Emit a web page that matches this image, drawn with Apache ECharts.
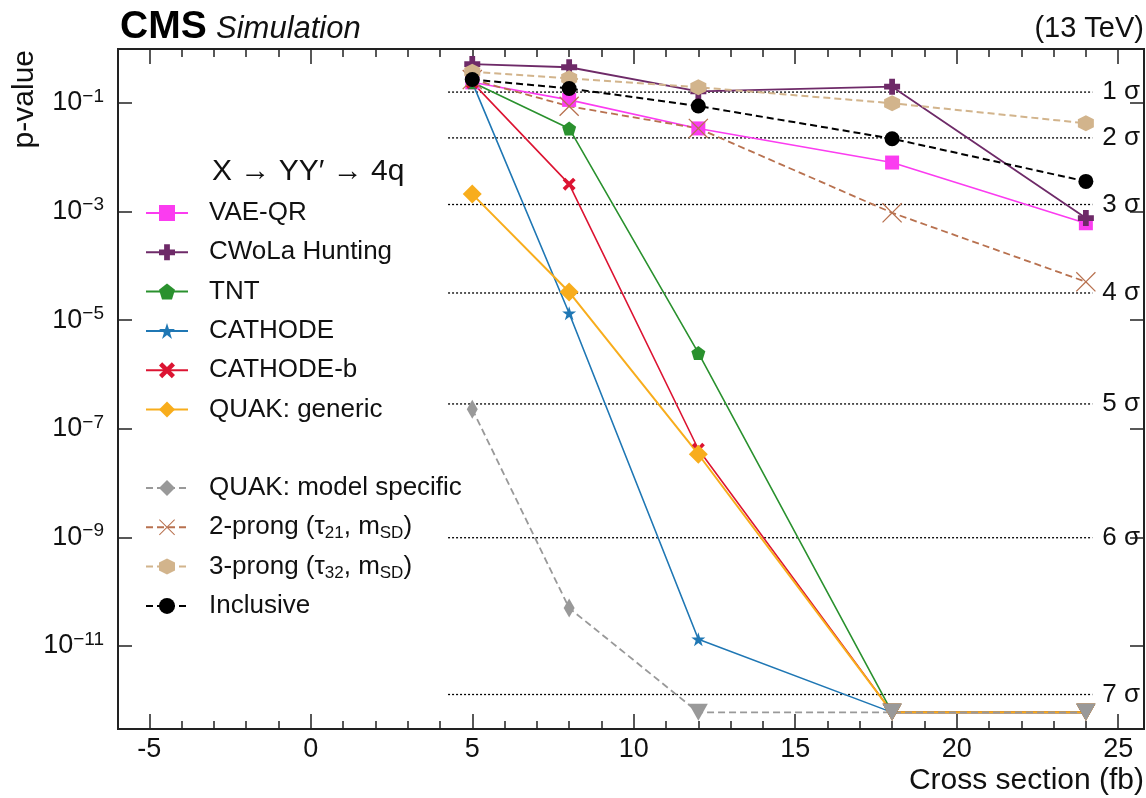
<!DOCTYPE html>
<html>
<head>
<meta charset="utf-8">
<title>p-value vs cross section</title>
<script src="https://cdn.jsdelivr.net/npm/echarts@6.0.0/dist/echarts.min.js"></script>
<style>
  html, body { margin: 0; padding: 0; background: #fff; }
  #main { width: 1146px; height: 798px; }
</style>
</head>
<body>
<div id="main"></div>
<script>
// signal cross sections (fb)
const xSection = [5, 8, 12, 18, 24];
// p-values, FLOOR = pinned to the bottom (drawn as a down triangle)
const FLOOR = 6e-13;
const vaeQR = [0.24, 0.114, 0.034, 0.008, 6.1e-4];
const cwola = [0.52, 0.455, 0.163, 0.2, 7.6e-4];
const tnt = [0.24, 0.034, 2.5e-6, FLOOR, FLOOR];
const cathode = [0.24, 1.34e-5, 1.33e-11, FLOOR, FLOOR];
const cathodeB = [0.24, 3.2e-3, 4.2e-8, FLOOR, FLOOR];
const quakGeneric = [2.1e-3, 3.3e-5, 3.4e-8, FLOOR, FLOOR];
const quakSpecific = [2.3e-7, 5e-11, FLOOR, FLOOR, FLOOR];
const twoProng = [0.27, 0.087, 0.034, 9.5e-4, 5.1e-5];
const threeProng = [0.375, 0.285, 0.195, 0.099, 0.0423];
const inclusive = [0.27, 0.185, 0.088, 0.022, 3.6e-3];

// significance reference lines
const sigmaLabels = ['1 σ', '2 σ', '3 σ', '4 σ', '5 σ', '6 σ', '7 σ'];
const sigmaP = [0.1587, 0.02275, 1.35e-3, 3.17e-5, 2.87e-7, 9.87e-10, 1.28e-12];

// ticks
const xTicks = [-5, 0, 5, 10, 15, 20, 25];
const yTickExp = [-11, -9, -7, -5, -3, -1];

const FONT = 'Liberation Sans, Arial, sans-serif';
const INK = '#111';

let xMinor = [];
for (let i = -5; i <= 25; i++) xMinor.push(i);

// marker shapes
const SYM = {
  plus: 'path://M3.2,0H6.8V3.2H10V6.8H6.8V10H3.2V6.8H0V3.2H3.2Z',
  pentagon: 'path://M5,0L10,3.8L8.1,10H1.9L0,3.8Z',
  star: 'path://M5,0L6.2,3.6H10L6.9,5.8L8.1,9.5L5,7.2L1.9,9.5L3.1,5.8L0,3.6H3.8Z',
  fatX: 'path://M2,0L5,3L8,0L10,2L7,5L10,8L8,10L5,7L2,10L0,8L3,5L0,2Z',
  thinX: 'path://M0,0.8L0.8,0L9,8.2L17.2,0L18,0.8L9.8,9L18,17.2L17.2,18L9,9.8L0.8,18L0,17.2L8.2,9Z',
  hexagon: 'path://M5,0L9.33,2.5V7.5L5,10L0.67,7.5V2.5Z'
};

function makeSeries(name, vals, color, symbol, size, width, dashed) {
  return {
    name: name,
    type: 'line',
    xAxisIndex: 0,
    yAxisIndex: 0,
    color: color,
    symbol: symbol,
    symbolSize: size,
    showAllSymbol: true,
    lineStyle: { width: width, type: dashed ? [7, 4] : 'solid', color: color },
    itemStyle: { color: color },
    data: vals.map(function (p, i) {
      let item = { value: [xSection[i], Math.log10(p)] };
      if (p <= FLOOR) {
        item.symbol = 'triangle';
        item.symbolRotate = 180;
        item.symbolSize = [19, 17];
      }
      return item;
    })
  };
}

let series = [
  makeSeries('VAE-QR', vaeQR, '#fb3cf0', 'rect', 14, 1.6, false),
  makeSeries('CWoLa Hunting', cwola, '#6e2a68', SYM.plus, 16, 1.8, false),
  makeSeries('TNT', tnt, '#2a912e', SYM.pentagon, 14, 1.6, false),
  makeSeries('CATHODE', cathode, '#1f77b4', SYM.star, 14, 1.6, false),
  makeSeries('CATHODE-b', cathodeB, '#dc1432', SYM.fatX, 13, 1.6, false),
  makeSeries('QUAK: generic', quakGeneric, '#f8ad1c', 'diamond', 19, 2, false),
  makeSeries('QUAK: model specific', quakSpecific, '#999999', 'diamond', [11, 19], 1.8, true),
  makeSeries('2-prong', twoProng, '#b8714f', SYM.thinX, 20, 1.8, true),
  makeSeries('3-prong', threeProng, '#d2b48c', SYM.hexagon, 16, 2, true),
  makeSeries('Inclusive', inclusive, '#000000', 'circle', 15, 2, true)
];

// dotted n-sigma lines with their labels
sigmaP.forEach(function (p, i) {
  series.push({
    name: sigmaLabels[i],
    type: 'line',
    xAxisIndex: 0,
    yAxisIndex: 0,
    silent: true,
    symbol: 'none',
    z: 1,
    lineStyle: { color: '#000', width: 1.3, type: [2, 2] },
    data: [[4.25, Math.log10(p)], [24.2, Math.log10(p)]],
    endLabel: {
      show: true,
      formatter: sigmaLabels[i],
      color: INK,
      fontFamily: FONT,
      fontSize: 26,
      distance: 10,
      padding: [0, 0, 12, 0]
    }
  });
});

const legendNames = series.slice(0, 10).map(function (s) { return s.name; });

function legendLabel(name) {
  if (name === '2-prong') return '{t|2-prong (τ}{d|21}{t|, m}{d|SD}{t|)}';
  if (name === '3-prong') return '{t|3-prong (τ}{d|32}{t|, m}{d|SD}{t|)}';
  return '{t|' + name + '}';
}

const legendText = {
  color: INK,
  fontFamily: FONT,
  fontSize: 26,
  lineHeight: 30,
  padding: [0, 0, 0, 16],
  rich: {
    t: { fontFamily: FONT, fontSize: 26, lineHeight: 30, color: INK },
    d: { fontFamily: FONT, fontSize: 17, lineHeight: 17, verticalAlign: 'bottom', color: INK }
  }
};

function legendBlock(names, top) {
  return {
    data: names,
    orient: 'vertical',
    left: 145,
    top: top,
    padding: 0,
    itemWidth: 42,
    itemHeight: 20,
    itemGap: 9.3,
    selectedMode: false,
    formatter: legendLabel,
    textStyle: legendText
  };
}

const tickStyle = { color: '#222', width: 1.5 };

let chart = echarts.init(document.getElementById('main'));
chart.setOption({
  animation: false,
  backgroundColor: '#fff',
  grid: [
    { left: 118, right: 2, top: 49, bottom: 69, show: true, borderColor: '#222', borderWidth: 2, backgroundColor: 'transparent' },
    { left: 118, right: 2, top: 49, bottom: 69 }
  ],
  xAxis: [
    {
      gridIndex: 0, type: 'value', position: 'bottom', min: -5.97, max: 25.8,
      axisLine: { show: false, onZero: false },
      splitLine: { show: false },
      axisTick: { inside: true, length: 15, customValues: xTicks, lineStyle: tickStyle },
      axisLabel: { customValues: xTicks, margin: 7, color: INK, fontFamily: FONT, fontSize: 27 }
    },
    {
      gridIndex: 0, type: 'value', position: 'top', min: -5.97, max: 25.8,
      axisLine: { show: false, onZero: false },
      splitLine: { show: false },
      axisTick: { inside: true, length: 15, customValues: xTicks, lineStyle: tickStyle },
      axisLabel: { show: false }
    },
    {
      gridIndex: 1, type: 'value', position: 'bottom', min: -5.97, max: 25.8,
      axisLine: { show: false, onZero: false },
      splitLine: { show: false },
      axisTick: { inside: true, length: 8, customValues: xMinor, lineStyle: tickStyle },
      axisLabel: { show: false }
    },
    {
      gridIndex: 1, type: 'value', position: 'top', min: -5.97, max: 25.8,
      axisLine: { show: false, onZero: false },
      splitLine: { show: false },
      axisTick: { inside: true, length: 8, customValues: xMinor, lineStyle: tickStyle },
      axisLabel: { show: false }
    }
  ],
  yAxis: [
    {
      gridIndex: 0, type: 'value', position: 'left', min: -12.528, max: -0.006,
      axisLine: { show: false, onZero: false },
      splitLine: { show: false },
      axisTick: { inside: true, length: 14, customValues: yTickExp, lineStyle: tickStyle },
      axisLabel: {
        customValues: yTickExp,
        margin: 14,
        formatter: function (v) { return '{b|10}{s|\u2212' + Math.abs(v) + '}'; },
        rich: {
          b: { fontFamily: FONT, fontSize: 27, lineHeight: 32, color: INK },
          s: { fontFamily: FONT, fontSize: 19, lineHeight: 19, verticalAlign: 'top', color: INK }
        }
      }
    },
    {
      gridIndex: 0, type: 'value', position: 'right', min: -12.528, max: -0.006,
      axisLine: { show: false, onZero: false },
      splitLine: { show: false },
      axisTick: { inside: true, length: 14, customValues: yTickExp, lineStyle: tickStyle },
      axisLabel: { show: false }
    },
    { gridIndex: 1, type: 'value', min: 0, max: 1, show: false }
  ],
  legend: [
    legendBlock(legendNames.slice(0, 6), 198),
    legendBlock(legendNames.slice(6), 473)
  ],
  graphic: [
    { type: 'text', x: 120, y: 27, style: { text: 'CMS', font: 'bold 39px ' + FONT, fill: '#000', align: 'left', verticalAlign: 'middle' } },
    { type: 'text', x: 216, y: 29, style: { text: 'Simulation', font: 'italic 31px ' + FONT, fill: INK, align: 'left', verticalAlign: 'middle' } },
    { type: 'text', x: 1144, y: 29, style: { text: '(13 TeV)', font: '29px ' + FONT, fill: INK, align: 'right', verticalAlign: 'middle' } },
    { type: 'text', x: 25, y: 50, rotation: Math.PI / 2, style: { text: 'p-value', font: '30px ' + FONT, fill: INK, align: 'right', verticalAlign: 'middle' } },
    { type: 'text', x: 1144, y: 781, style: { text: 'Cross section (fb)', font: '30px ' + FONT, fill: INK, align: 'right', verticalAlign: 'middle' } },
    { type: 'text', x: 212, y: 172, style: { text: 'X \u2192 YY\u2032 \u2192 4q', font: '30px ' + FONT, fill: INK, align: 'left', verticalAlign: 'middle' } }
  ],
  series: series
});
</script>
</body>
</html>
